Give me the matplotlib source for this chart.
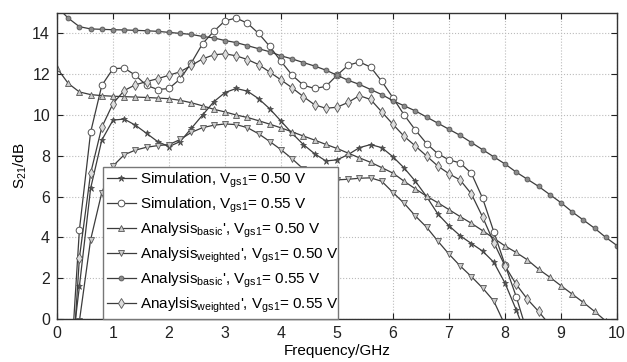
import numpy as np
import matplotlib
matplotlib.use('Agg')
import matplotlib.pyplot as plt

plt.rcParams['font.family'] = ['Liberation Sans', 'DejaVu Sans']
plt.rcParams['mathtext.fontset'] = 'custom'
plt.rcParams['mathtext.rm'] = 'Liberation Sans'
plt.rcParams['mathtext.it'] = 'Liberation Sans:italic'

# frequency grid (GHz), markers every 0.2 GHz
f_sim50 = np.round(np.arange(0.2, 8.41, 0.2), 1)
sim50 = [-3.0, 1.6, 6.4, 8.77, 9.75, 9.8, 9.5, 9.1, 8.69, 8.45, 8.7, 9.35, 10.0, 10.65,
         11.1, 11.3, 11.17, 10.8, 10.3, 9.7, 9.1, 8.55, 8.1, 7.75, 7.8, 8.06, 8.4, 8.55,
         8.4, 7.95, 7.4, 6.75, 6.0, 5.15, 4.57, 4.08, 3.7, 3.33, 2.78, 1.76, 0.45, -1.0]

f_sim55 = np.round(np.arange(0.2, 8.41, 0.2), 1)
sim55 = [-4.4, 4.37, 9.15, 11.45, 12.27, 12.3, 11.95, 11.45, 11.25, 11.3, 11.77, 12.56,
         13.5, 14.1, 14.62, 14.75, 14.5, 14.0, 13.36, 12.63, 11.95, 11.46, 11.3, 11.4,
         11.95, 12.44, 12.6, 12.35, 11.65, 10.84, 10.0, 9.26, 8.6, 8.1, 7.8, 7.65, 7.14,
         5.92, 4.28, 2.66, 1.1, -0.7]

f_basic50 = np.round(np.arange(0.0, 9.81, 0.2), 1)
basic50 = [12.3, 11.55, 11.13, 11.0, 10.95, 10.92, 10.9, 10.88, 10.86, 10.83, 10.8, 10.72,
           10.6, 10.45, 10.28, 10.15, 10.0, 9.88, 9.72, 9.55, 9.37, 9.17, 8.97, 8.77, 8.56,
           8.36, 8.13, 7.9, 7.68, 7.42, 7.15, 6.75, 6.38, 6.02, 5.7, 5.36, 5.02, 4.69, 4.33,
           3.96, 3.58, 3.26, 2.9, 2.44, 2.05, 1.63, 1.22, 0.81, 0.37, -0.1]

f_weight50 = np.round(np.arange(0.2, 8.01, 0.2), 1)
weight50 = [-4.0, -0.1, 3.88, 6.2, 7.5, 8.05, 8.28, 8.42, 8.5, 8.55, 8.8, 9.15, 9.38, 9.5,
            9.56, 9.53, 9.38, 9.08, 8.7, 8.3, 7.85, 7.35, 6.95, 6.8, 6.82, 6.85, 6.9, 6.92,
            6.75, 6.2, 5.67, 5.05, 4.5, 3.82, 3.18, 2.6, 2.08, 1.52, 0.88, -0.3]

f_basic55 = np.round(np.arange(0.0, 10.01, 0.2), 1)
basic55 = [15.3, 14.75, 14.33, 14.22, 14.2, 14.18, 14.17, 14.15, 14.13, 14.1, 14.05, 14.0,
           13.95, 13.85, 13.78, 13.65, 13.55, 13.4, 13.25, 13.1, 12.9, 12.75, 12.57, 12.4,
           12.2, 11.95, 11.7, 11.5, 11.25, 11.0, 10.7, 10.45, 10.2, 9.9, 9.6, 9.3, 9.0,
           8.65, 8.3, 7.95, 7.6, 7.2, 6.85, 6.5, 6.1, 5.7, 5.25, 4.85, 4.45, 4.0, 3.6]

f_weight55 = np.round(np.arange(0.2, 8.81, 0.2), 1)
weight55 = [-5.6, 3.0, 7.14, 9.4, 10.56, 11.2, 11.48, 11.64, 11.78, 11.95, 12.12, 12.43,
            12.75, 12.95, 13.0, 12.9, 12.72, 12.47, 12.1, 11.72, 11.33, 10.9, 10.5, 10.33,
            10.38, 10.62, 10.95, 10.76, 10.15, 9.54, 8.95, 8.48, 7.99, 7.5, 7.12, 6.81,
            6.13, 5.0, 3.75, 2.6, 1.7, 0.97, 0.37, -0.3]

labels = [r'Simulation, V$_{\mathrm{gs1}}$= 0.50 V',
          r'Simulation, V$_{\mathrm{gs1}}$= 0.55 V',
          r"Analysis$_{\mathrm{basic}}$', V$_{\mathrm{gs1}}$= 0.50 V",
          r"Analysis$_{\mathrm{weighted}}$', V$_{\mathrm{gs1}}$= 0.50 V",
          r"Analysis$_{\mathrm{basic}}$', V$_{\mathrm{gs1}}$= 0.55 V",
          r"Anaylsis$_{\mathrm{weighted}}$', V$_{\mathrm{gs1}}$= 0.55 V"]

lc = '#3c3c3c'
fig = plt.figure(figsize=(6.27, 3.62), dpi=100)
ax = fig.add_axes([57/627, 1-319/362, 560/627, 306/362])

ax.plot(f_sim50, sim50, color=lc, lw=0.9, marker='*', ms=4.5, mfc='#555555', mec='#444444', mew=0.5, label=labels[0])
ax.plot(f_sim55, sim55, color=lc, lw=0.9, marker='o', ms=4.8, mfc='white', mec='#555555', mew=0.7, label=labels[1])
ax.plot(f_basic50, basic50, color=lc, lw=0.9, marker='^', ms=4.5, mfc='#cccccc', mec='#555555', mew=0.6, label=labels[2])
ax.plot(f_weight50, weight50, color=lc, lw=0.9, marker='v', ms=4.5, mfc='#cccccc', mec='#555555', mew=0.6, label=labels[3])
ax.plot(f_basic55, basic55, color=lc, lw=0.9, marker='o', ms=3.5, mfc='#8a8a8a', mec='#555555', mew=0.6, label=labels[4])
ax.plot(f_weight55, weight55, color=lc, lw=0.9, marker='d', ms=5, mfc='#dddddd', mec='#555555', mew=0.6, label=labels[5])

ax.set_xlim(0, 10)
ax.set_ylim(0, 15)
ax.set_xticks(range(0, 11))
ax.set_yticks(range(0, 15, 2))
ax.tick_params(direction='in', top=True, right=True, labelsize=11.5, length=4, pad=5, colors='#222222')
ax.grid(True, linestyle=':', color='#bbbbbb', linewidth=0.8)
for s in ax.spines.values():
    s.set_color('#333333')
    s.set_linewidth(1.0)

ax.set_xlabel('Frequency/GHz', fontsize=11, labelpad=2)
ax.set_ylabel(r'S$_{21}$/dB', fontsize=11, labelpad=2)

leg = ax.legend(loc='lower left', bbox_to_anchor=(0.082, 0.0, 0.42, 0.493), mode='expand',
                borderaxespad=0, fontsize=11, frameon=True, fancybox=False,
                handlelength=1.9, handletextpad=0.3, labelspacing=0.38, borderpad=0.25)
leg.get_frame().set_edgecolor('#777777')
leg.get_frame().set_linewidth(1.0)
leg.get_frame().set_alpha(1.0)

fig.savefig('out.png', dpi=100)
